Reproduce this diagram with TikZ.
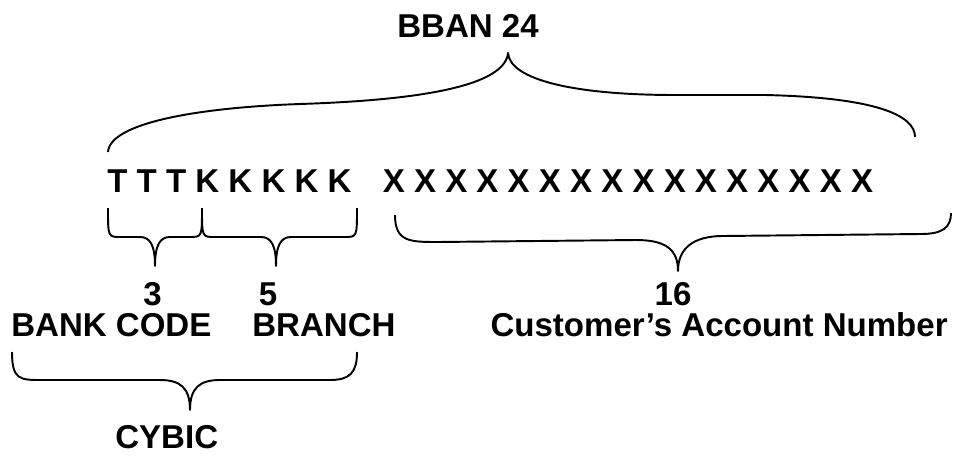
\documentclass[tikz,border=0pt]{standalone}
\usepackage{fontspec}
\setmainfont{Liberation Sans}
\usepackage{tikz}
\usetikzlibrary{arrows.meta}

\tikzset{
    lbl/.style={font=\bfseries\fontsize{18.8}{22}\selectfont, inner sep=0pt},
    curly/.style={line width=1.1pt, line join=round}
}

\begin{document}
\begin{tikzpicture}
    \useasboundingbox (0,0) rectangle (19.06,-9.18);

    % nodes
    \node (bban) at (9.36,-0.76) [lbl,anchor=base] {BBAN 24};
    \node (tk) at (2.14,-3.84) [lbl,anchor=base west] {T T T K K K K K};
    \node (xs) at (7.65,-3.84) [lbl,anchor=base west] {X X X X X X X X X X X X X X X X};
    \node (n3) at (3.05,-6.10) [lbl,anchor=base] {3};
    \node (n5) at (5.36,-6.10) [lbl,anchor=base] {5};
    \node (n16) at (13.46,-6.10) [lbl,anchor=base] {16};
    \node (bank) at (0.22,-6.72) [lbl,anchor=base west] {BANK CODE};
    \node (branch) at (5.04,-6.72) [lbl,anchor=base west] {BRANCH};
    \node (cust) at (18.96,-6.72) [lbl,anchor=base east] {Customer’s Account Number};
    \node (cybic) at (2.30,-8.96) [lbl,anchor=base west] {CYBIC};

    % braces
    \draw[curly] (2.16,-3.04) .. controls (2.2,-2.45) and (4.0,-2.15) .. (6.0,-2.08)
        .. controls (8.5,-2.0) and (10.1,-1.7) .. (10.16,-1.06)
        .. controls (10.2,-1.6) and (11.5,-1.9) .. (13.5,-1.9) -- (15.3,-1.9)
        .. controls (17.5,-1.95) and (18.3,-2.3) .. (18.3,-2.74); % BBAN
    \draw[curly] (2.16,-4.16) .. controls (2.16,-4.74) .. (2.41,-4.74) -- (2.80,-4.74)
        .. controls (3.00,-4.74) and (3.10,-4.90) .. (3.10,-5.32)
        .. controls (3.10,-4.90) and (3.20,-4.74) .. (3.40,-4.74) -- (3.79,-4.74)
        .. controls (4.04,-4.74) .. (4.04,-4.16); % bank code
    \draw[curly] (4.04,-4.16) .. controls (4.04,-4.74) .. (4.29,-4.74) -- (5.22,-4.74)
        .. controls (5.42,-4.74) and (5.52,-4.90) .. (5.52,-5.32)
        .. controls (5.52,-4.90) and (5.62,-4.74) .. (5.82,-4.74) -- (6.89,-4.74)
        .. controls (7.14,-4.74) .. (7.14,-4.16); % branch
    \draw[curly] (7.90,-4.30) .. controls (7.90,-4.84) and (8.2,-4.84) .. (8.76,-4.84) -- (12.72,-4.80)
        .. controls (13.3,-4.80) and (13.56,-4.98) .. (13.56,-5.42)
        .. controls (13.56,-4.98) and (13.85,-4.72) .. (14.46,-4.72) -- (18.42,-4.68)
        .. controls (18.85,-4.68) and (19.02,-4.55) .. (19.02,-4.26); % account number
    \draw[curly] (0.24,-7.04) .. controls (0.24,-7.6) and (0.4,-7.6) .. (0.84,-7.6) -- (3.2,-7.6)
        .. controls (3.6,-7.6) and (3.8,-7.75) .. (3.8,-8.2)
        .. controls (3.8,-7.75) and (4.0,-7.6) .. (4.4,-7.6) -- (6.6,-7.6)
        .. controls (7.0,-7.6) and (7.14,-7.45) .. (7.14,-7.04); % CYBIC

\end{tikzpicture}
\end{document}
